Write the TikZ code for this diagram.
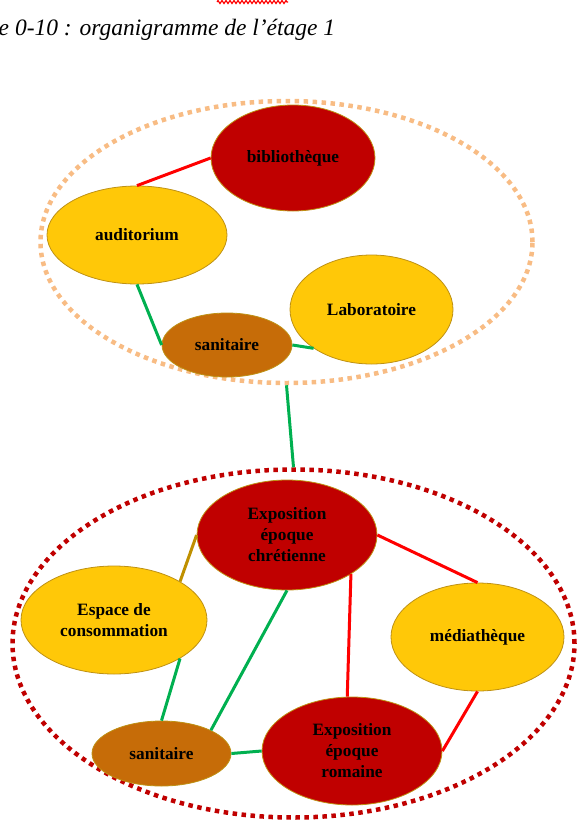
\documentclass[tikz,border=0pt]{standalone}
\usepackage{fontspec}
\setmainfont{Liberation Serif}
\usetikzlibrary{shapes.geometric,decorations.pathmorphing}

\definecolor{roomred}{RGB}{192,0,0}
\definecolor{roomyellow}{RGB}{255,200,8}
\definecolor{roombrown}{RGB}{198,108,8}
\definecolor{roomedge}{RGB}{190,145,20}
\definecolor{linkgreen}{RGB}{0,176,80}
\definecolor{linkred}{RGB}{255,0,0}
\definecolor{linkgold}{RGB}{191,144,0}
\definecolor{zonepeach}{RGB}{248,188,132}
\definecolor{zonered}{RGB}{192,0,0}

\begin{document}
\begin{tikzpicture}[x=1pt,y=-1pt,
  room/.style={ellipse, draw=roomedge, line width=0.8pt, inner sep=0pt,
    font=\fontsize{17.3}{21}\selectfont\bfseries, align=center, text=black},
  redroom/.style={room, fill=roomred},
  yellowroom/.style={room, fill=roomyellow},
  brownroom/.style={room, fill=roombrown},
  zone/.style={ellipse, line width=4.5pt, dash pattern=on 4.5pt off 4.5pt, inner sep=0pt},
  greenlink/.style={linkgreen, line width=3pt},
  redlink/.style={linkred, line width=3pt},
  goldlink/.style={linkgold, line width=3pt},
]
\useasboundingbox (0,0) rectangle (581,825);

% caption and the spell-check squiggle above it
\draw[linkred, line width=1.2pt, decorate,
      decoration={zigzag, segment length=4pt, amplitude=1.5pt}] (217,2) -- (288,2);
\node[anchor=base west, inner sep=0pt, font=\fontsize{23.5}{28}\selectfont\itshape]
  (caption) at (-1.5,35) {e 0-10 : organigramme de l’étage 1};

% zones of the floor
\node[zone, draw=zonepeach, minimum width=492pt, minimum height=282pt] (topzone) at (286.5,242) {};
\node[zone, draw=zonered, minimum width=562pt, minimum height=348pt] (botzone) at (293.5,643.5) {};

% upper group of rooms
\node[redroom, minimum width=164pt, minimum height=106pt] (biblio) at (293,158) {bibliothèque};
\node[yellowroom, minimum width=180pt, minimum height=98pt] (audit) at (137,235) {auditorium};
\node[yellowroom, minimum width=163pt, minimum height=109pt] (labo) at (371.5,309.5) {Laboratoire};
\node[brownroom, minimum width=130pt, minimum height=64pt] (sanA) at (227,345) {sanitaire};

% lower group of rooms
\node[redroom, minimum width=180pt, minimum height=110pt] (chret) at (287,535) {Exposition\\époque\\chrétienne};
\node[yellowroom, minimum width=186pt, minimum height=108pt] (conso) at (114,620) {Espace de\\consommation};
\node[brownroom, minimum width=139pt, minimum height=65pt] (sanB) at (161.5,753.5) {sanitaire};
\node[redroom, minimum width=180pt, minimum height=108pt] (romaine) at (352,751) {Exposition\\époque\\romaine};
\node[yellowroom, minimum width=173pt, minimum height=108pt] (media) at (477.5,637) {médiathèque};

% links, upper group
\draw[redlink] (audit.north) -- (biblio.west);
\draw[greenlink] (audit.south) -- (sanA.west);
\draw[greenlink] (sanA.east) -- (labo.south west);

% link between the two zones
\draw[greenlink] (topzone.south) -- (botzone.north);

% links, lower group
\draw[goldlink] (conso.north east) -- (chret.west);
\draw[greenlink] (conso.south east) -- (sanB.north);
\draw[greenlink] (chret.south) -- (sanB.north east);
\draw[greenlink] (sanB.east) -- (romaine.west);
\draw[redlink] (chret.south east) -- (romaine.95);
\draw[redlink] (chret.east) -- (media.north);
\draw[redlink] (media.south) -- (romaine.east);
\end{tikzpicture}
\end{document}
